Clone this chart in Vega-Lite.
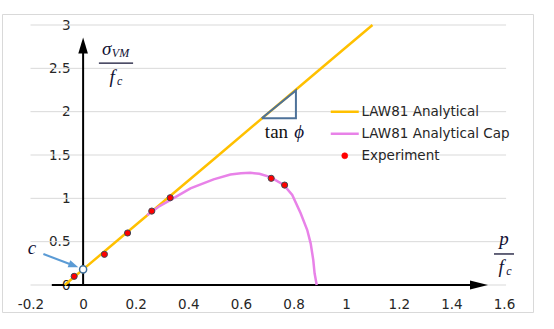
{
  "$schema": "https://vega.github.io/schema/vega-lite/v6.json",
  "width": 531,
  "height": 298,
  "autosize": "none",
  "padding": {"left": 2, "top": 14, "right": 21, "bottom": 17},
  "background": "white",
  "config": {
    "view": {"stroke": "#d9d9d9", "strokeWidth": 1},
    "axis": {"labelFont": "DejaVu Sans", "labelFontSize": 13.5, "labelColor": "#262626"}
  },
  "datasets": {
    "grid": [
      {"x": -0.2, "x2": 1.608, "y": 0, "y2": 0},
      {"x": -0.2, "x2": 1.608, "y": 0.5, "y2": 0.5},
      {"x": -0.2, "x2": 1.608, "y": 1, "y2": 1},
      {"x": -0.2, "x2": 1.608, "y": 1.5, "y2": 1.5},
      {"x": -0.2, "x2": 1.608, "y": 2, "y2": 2},
      {"x": -0.2, "x2": 1.608, "y": 2.5, "y2": 2.5},
      {"x": -0.2, "x2": 1.608, "y": 3, "y2": 3}
    ],
    "axes": [{"x": -0.119, "x2": 1.505, "y": 0, "y2": 0}, {"x": 0, "x2": 0, "y": 0, "y2": 2.763}],
    "xarrow": [{"x": 1.505, "y": 0}],
    "yarrow": [{"x": 0, "y": 2.763}],
    "curves": [
      {"series": "LAW81 Analytical", "i": 0, "x": -0.07, "y": 0},
      {"series": "LAW81 Analytical", "i": 1, "x": 0, "y": 0.18},
      {"series": "LAW81 Analytical", "i": 2, "x": 0.217, "y": 0.735},
      {"series": "LAW81 Analytical", "i": 3, "x": 0.5, "y": 1.46},
      {"series": "LAW81 Analytical", "i": 4, "x": 0.941, "y": 2.593},
      {"series": "LAW81 Analytical", "i": 5, "x": 1.1, "y": 3.0},
      {"series": "LAW81 Analytical Cap", "i": 0, "x": 0.243, "y": 0.805},
      {"series": "LAW81 Analytical Cap", "i": 1, "x": 0.287, "y": 0.903},
      {"series": "LAW81 Analytical Cap", "i": 2, "x": 0.331, "y": 0.98},
      {"series": "LAW81 Analytical Cap", "i": 3, "x": 0.408, "y": 1.115},
      {"series": "LAW81 Analytical Cap", "i": 4, "x": 0.496, "y": 1.219},
      {"series": "LAW81 Analytical Cap", "i": 5, "x": 0.56, "y": 1.275},
      {"series": "LAW81 Analytical Cap", "i": 6, "x": 0.60, "y": 1.29},
      {"series": "LAW81 Analytical Cap", "i": 7, "x": 0.636, "y": 1.295},
      {"series": "LAW81 Analytical Cap", "i": 8, "x": 0.67, "y": 1.283},
      {"series": "LAW81 Analytical Cap", "i": 9, "x": 0.712, "y": 1.245},
      {"series": "LAW81 Analytical Cap", "i": 10, "x": 0.763, "y": 1.155},
      {"series": "LAW81 Analytical Cap", "i": 11, "x": 0.795, "y": 1.04},
      {"series": "LAW81 Analytical Cap", "i": 12, "x": 0.827, "y": 0.827},
      {"series": "LAW81 Analytical Cap", "i": 13, "x": 0.852, "y": 0.634},
      {"series": "LAW81 Analytical Cap", "i": 14, "x": 0.865, "y": 0.481},
      {"series": "LAW81 Analytical Cap", "i": 15, "x": 0.875, "y": 0.288},
      {"series": "LAW81 Analytical Cap", "i": 16, "x": 0.88, "y": 0.135},
      {"series": "LAW81 Analytical Cap", "i": 17, "x": 0.888, "y": 0.0}
    ],
    "experiment": [
      {"series": "Experiment", "x": -0.034, "y": 0.10},
      {"series": "Experiment", "x": 0.081, "y": 0.354},
      {"series": "Experiment", "x": 0.169, "y": 0.60},
      {"series": "Experiment", "x": 0.261, "y": 0.853},
      {"series": "Experiment", "x": 0.331, "y": 1.007},
      {"series": "Experiment", "x": 0.715, "y": 1.231},
      {"series": "Experiment", "x": 0.766, "y": 1.153}
    ],
    "triangle": [
      {"i": 0, "x": 0.679, "y": 1.923},
      {"i": 1, "x": 0.809, "y": 2.245},
      {"i": 2, "x": 0.809, "y": 1.923},
      {"i": 3, "x": 0.679, "y": 1.923}
    ],
    "cArrow": [{"x": -0.151, "y": 0.358, "x2": -0.036, "y2": 0.225}],
    "cHead": [{"x": -0.036, "y": 0.225}],
    "cPoint": [{"x": 0, "y": 0.18}],
    "fracBars": [{"x": 0.06, "x2": 0.19, "y": 2.561, "y2": 2.561}, {"x": 1.562, "x2": 1.638, "y": 0.358, "y2": 0.358}],
    "mathBig": [
      {"t": "σ", "x": 0.0897, "y": 2.653},
      {"t": "f", "x": 0.11, "y": 2.326},
      {"t": "p", "x": 1.6, "y": 0.461},
      {"t": "f", "x": 1.589, "y": 0.135},
      {"t": "c", "x": -0.194, "y": 0.358},
      {"t": "ϕ", "x": 0.821, "y": 1.692}
    ],
    "mathSmall": [
      {"t": "VM", "x": 0.142, "y": 2.626},
      {"t": "c", "x": 0.139, "y": 2.307},
      {"t": "c", "x": 1.619, "y": 0.115}
    ],
    "tan": [{"t": "tan", "x": 0.735, "y": 1.692}]
  },
  "encoding": {
    "x": {
      "field": "x", "type": "quantitative",
      "scale": {"domain": [-0.2, 1.6], "range": [28.5, 502], "nice": false, "zero": false},
      "axis": {
        "title": null, "orient": "bottom", "offset": -27, "domain": false, "ticks": false, "grid": false,
        "labelPadding": 12.5, "values": [-0.2, 0, 0.2, 0.4, 0.6, 0.8, 1, 1.2, 1.4, 1.6],
        "labelExpr": "datum.value + ''", "labelFlush": false, "labelOverlap": false, "labelBound": false
      }
    },
    "y": {
      "field": "y", "type": "quantitative",
      "scale": {"domain": [0, 3], "range": [271, 11], "nice": false, "zero": false},
      "axis": {
        "title": null, "orient": "left", "offset": -81, "domain": false, "ticks": false, "grid": false,
        "labelPadding": 13, "values": [0, 0.5, 1, 1.5, 2, 2.5, 3],
        "labelExpr": "datum.value + ''", "labelFlush": false, "labelOverlap": false, "labelBound": false
      }
    }
  },
  "layer": [
    {
      "data": {"name": "grid"},
      "mark": {"type": "rule", "color": "#d9d9d9", "strokeWidth": 1},
      "encoding": {"x2": {"field": "x2"}, "y2": {"field": "y2"}}
    },
    {
      "data": {"name": "axes"},
      "mark": {"type": "rule", "color": "#000000", "strokeWidth": 2},
      "encoding": {"x2": {"field": "x2"}, "y2": {"field": "y2"}}
    },
    {
      "data": {"name": "xarrow"},
      "mark": {"type": "point", "shape": "M1,0L-1,-0.5L-1,0.5Z", "size": 324, "filled": true, "color": "#000000", "opacity": 1}
    },
    {
      "data": {"name": "yarrow"},
      "mark": {"type": "point", "shape": "M0,-1L-0.6,1L0.6,1Z", "size": 256, "filled": true, "color": "#000000", "opacity": 1}
    },
    {
      "data": {"name": "curves"},
      "mark": {"type": "line", "strokeWidth": 2.5},
      "encoding": {
        "order": {"field": "i"},
        "color": {
          "field": "series", "type": "nominal",
          "scale": {"domain": ["LAW81 Analytical", "LAW81 Analytical Cap", "Experiment"], "range": ["#ffc000", "#e882e8", "#ff0000"]},
          "legend": {
            "title": null, "orient": "none", "legendX": 336, "legendY": 91, "padding": 0,
            "symbolSize": 196, "labelOffset": 10, "rowPadding": 7,
            "labelFont": "DejaVu Sans", "labelFontSize": 13.5, "labelColor": "#262626",
            "encode": {
              "symbols": {
                "update": {
                  "shape": {"signal": "datum.value === 'Experiment' ? 'circle' : 'M-2,0L2,0'"},
                  "size": {"signal": "datum.value === 'Experiment' ? 36 : 196"},
                  "fill": {"signal": "datum.value === 'Experiment' ? '#ff0000' : 'transparent'"},
                  "stroke": {"signal": "datum.value === 'LAW81 Analytical' ? '#ffc000' : (datum.value === 'LAW81 Analytical Cap' ? '#e882e8' : '#404855')"},
                  "strokeWidth": {"signal": "datum.value === 'Experiment' ? 0.6 : 2.5"},
                  "opacity": {"value": 1}
                }
              }
            }
          }
        }
      }
    },
    {
      "data": {"name": "triangle"},
      "mark": {"type": "line", "color": "#4e7299", "strokeWidth": 2},
      "encoding": {"order": {"field": "i"}}
    },
    {
      "data": {"name": "cArrow"},
      "mark": {"type": "rule", "color": "#5b9bd5", "strokeWidth": 2},
      "encoding": {"x2": {"field": "x2"}, "y2": {"field": "y2"}}
    },
    {
      "data": {"name": "cHead"},
      "mark": {"type": "point", "shape": "M1,0L-1,-0.75L-1,0.75Z", "size": 100, "angle": 21, "filled": true, "color": "#5b9bd5", "opacity": 1}
    },
    {
      "data": {"name": "experiment"},
      "mark": {"type": "point", "filled": true, "size": 38, "stroke": "#404855", "strokeWidth": 1, "opacity": 1},
      "encoding": {"color": {"field": "series", "type": "nominal"}}
    },
    {
      "data": {"name": "cPoint"},
      "mark": {"type": "point", "filled": true, "fill": "white", "stroke": "#41719c", "strokeWidth": 1.5, "size": 50, "opacity": 1}
    },
    {
      "data": {"name": "fracBars"},
      "mark": {"type": "rule", "color": "#111133", "strokeWidth": 1.3},
      "encoding": {"x2": {"field": "x2"}, "y2": {"field": "y2"}}
    },
    {
      "data": {"name": "mathBig"},
      "mark": {"type": "text", "font": "Liberation Serif", "fontStyle": "italic", "fontSize": 19, "align": "center", "baseline": "alphabetic", "color": "#111133"},
      "encoding": {"text": {"field": "t"}}
    },
    {
      "data": {"name": "mathSmall"},
      "mark": {"type": "text", "font": "Liberation Serif", "fontStyle": "italic", "fontSize": 12, "align": "center", "baseline": "alphabetic", "color": "#111133"},
      "encoding": {"text": {"field": "t"}}
    },
    {
      "data": {"name": "tan"},
      "mark": {"type": "text", "font": "Liberation Serif", "fontSize": 19, "align": "center", "baseline": "alphabetic", "color": "#111111"},
      "encoding": {"text": {"field": "t"}}
    }
  ]
}
